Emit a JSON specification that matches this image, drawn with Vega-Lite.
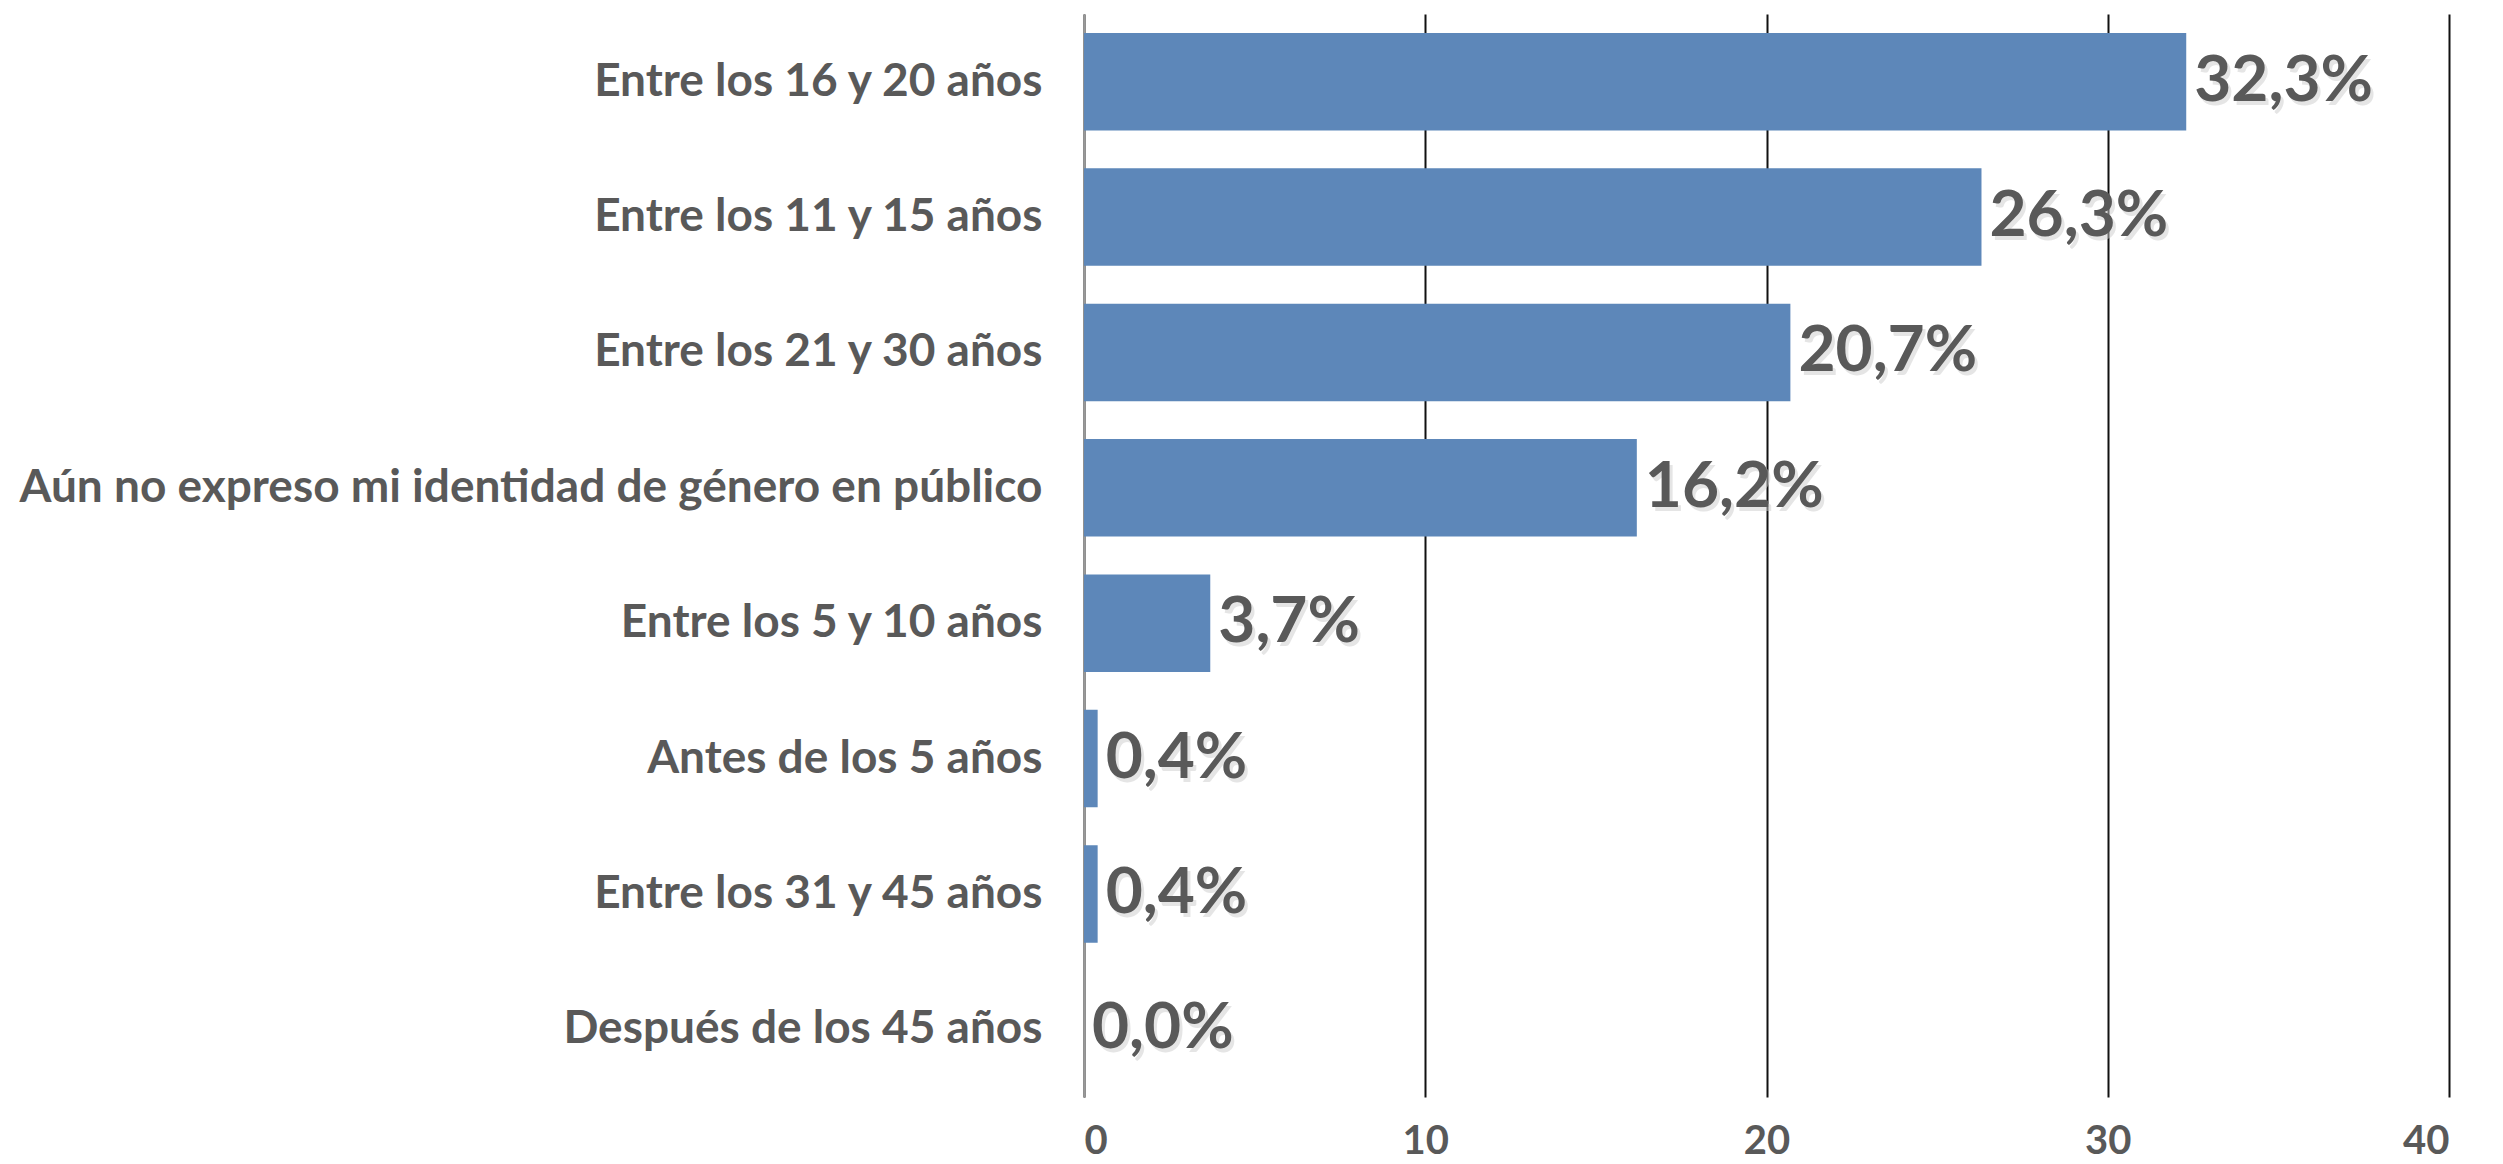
{
  "$schema": "https://vega.github.io/schema/vega-lite/v6.json",
  "width": 1365,
  "height": 1083,
  "autosize": {"type": "none"},
  "padding": {"left": 1084, "top": 14, "right": 54, "bottom": 67},
  "background": "white",
  "data": {
    "values": [
      {"categoria": "Entre los 16 y 20 años", "porcentaje": 32.3, "etiqueta": "32,3%"},
      {"categoria": "Entre los 11 y 15 años", "porcentaje": 26.3, "etiqueta": "26,3%"},
      {"categoria": "Entre los 21 y 30 años", "porcentaje": 20.7, "etiqueta": "20,7%"},
      {"categoria": "Aún no expreso mi identidad de género en público", "porcentaje": 16.2, "etiqueta": "16,2%"},
      {"categoria": "Entre los 5 y 10 años", "porcentaje": 3.7, "etiqueta": "3,7%"},
      {"categoria": "Antes de los 5 años", "porcentaje": 0.4, "etiqueta": "0,4%"},
      {"categoria": "Entre los 31 y 45 años", "porcentaje": 0.4, "etiqueta": "0,4%"},
      {"categoria": "Después de los 45 años", "porcentaje": 0.0, "etiqueta": "0,0%"}
    ]
  },
  "encoding": {
    "y": {
      "field": "categoria",
      "type": "nominal",
      "sort": null,
      "scale": {"paddingInner": 0.28, "paddingOuter": 0.14},
      "axis": {
        "title": null,
        "ticks": false,
        "domain": true,
        "domainColor": "#999999",
        "domainWidth": 2,
        "labelFont": "Lato",
        "labelFontWeight": "bold",
        "labelFontSize": 46,
        "labelColor": "#595959",
        "labelPadding": 42,
        "labelLimit": 1200
      }
    },
    "x": {
      "field": "porcentaje",
      "type": "quantitative",
      "scale": {"domain": [0, 40], "nice": false},
      "axis": {
        "title": null,
        "values": [0, 10, 20, 30, 40],
        "domain": false,
        "ticks": false,
        "grid": true,
        "gridColor": "#111111",
        "gridWidth": 2,
        "labelFont": "Lato",
        "labelFontWeight": "bold",
        "labelFontSize": 40,
        "labelColor": "#595959",
        "labelPadding": 24
      }
    }
  },
  "layer": [
    {
      "mark": {"type": "bar", "color": "#5d87b9"}
    },
    {
      "mark": {"type": "text", "align": "left", "baseline": "middle", "dx": 11, "dy": 4, "font": "Lato", "fontWeight": "bold", "fontSize": 64, "color": "#cccccc", "opacity": 0.5},
      "encoding": {"text": {"field": "etiqueta"}}
    },
    {
      "mark": {"type": "text", "align": "left", "baseline": "middle", "dx": 8, "dy": 0, "font": "Lato", "fontWeight": "bold", "fontSize": 64, "color": "#595959"},
      "encoding": {"text": {"field": "etiqueta"}}
    }
  ],
  "config": {"view": {"stroke": null}}
}
